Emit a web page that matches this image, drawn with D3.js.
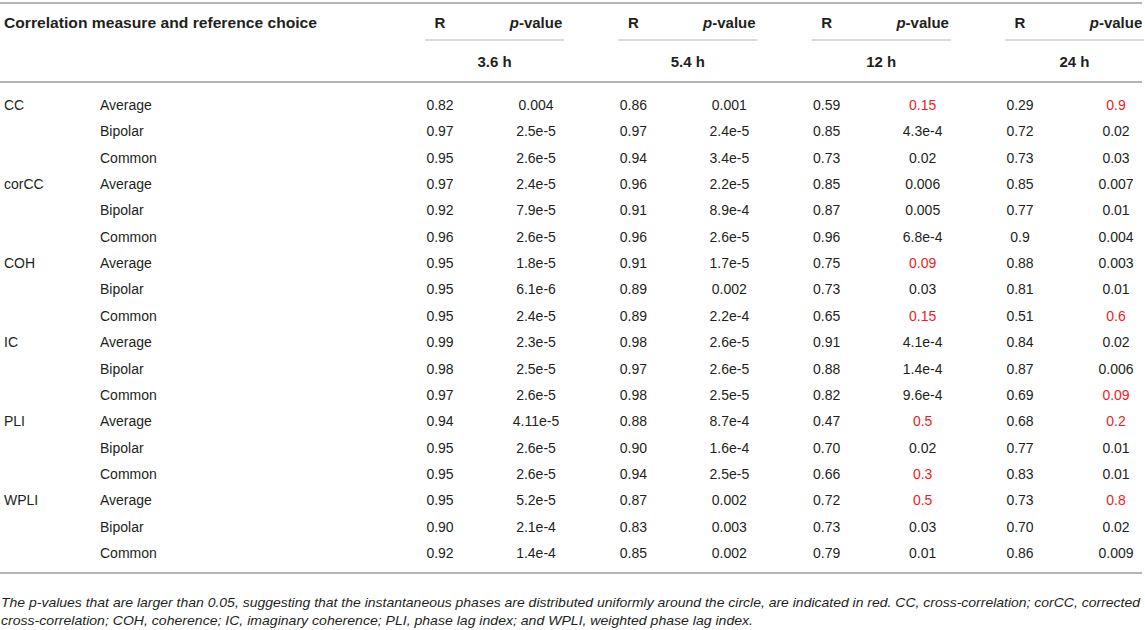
<!DOCTYPE html>
<html>
<head>
<meta charset="utf-8">
<script src="https://cdn.jsdelivr.net/npm/d3@7"></script>
<style>
  body { margin: 0; background: #fff; }
  text { font-family: "Liberation Sans", Arial, Helvetica, sans-serif; fill: #231f20; }
</style>
</head>
<body>
<div id="table"></div>
<script>
// Table values
const measures = ["CC", "corCC", "COH", "IC", "PLI", "WPLI"];
const refs = ["Average", "Bipolar", "Common"];
const intervals = ["3.6 h", "5.4 h", "12 h", "24 h"];

// one row per measure x reference, columns = intervals
const rValues = [
    ["0.82", "0.86", "0.59", "0.29"],
    ["0.97", "0.97", "0.85", "0.72"],
    ["0.95", "0.94", "0.73", "0.73"],
    ["0.97", "0.96", "0.85", "0.85"],
    ["0.92", "0.91", "0.87", "0.77"],
    ["0.96", "0.96", "0.96", "0.9"],
    ["0.95", "0.91", "0.75", "0.88"],
    ["0.95", "0.89", "0.73", "0.81"],
    ["0.95", "0.89", "0.65", "0.51"],
    ["0.99", "0.98", "0.91", "0.84"],
    ["0.98", "0.97", "0.88", "0.87"],
    ["0.97", "0.98", "0.82", "0.69"],
    ["0.94", "0.88", "0.47", "0.68"],
    ["0.95", "0.90", "0.70", "0.77"],
    ["0.95", "0.94", "0.66", "0.83"],
    ["0.95", "0.87", "0.72", "0.73"],
    ["0.90", "0.83", "0.73", "0.70"],
    ["0.92", "0.85", "0.79", "0.86"]
];

const pValues = [
    ["0.004", "0.001", "0.15", "0.9"],
    ["2.5e-5", "2.4e-5", "4.3e-4", "0.02"],
    ["2.6e-5", "3.4e-5", "0.02", "0.03"],
    ["2.4e-5", "2.2e-5", "0.006", "0.007"],
    ["7.9e-5", "8.9e-4", "0.005", "0.01"],
    ["2.6e-5", "2.6e-5", "6.8e-4", "0.004"],
    ["1.8e-5", "1.7e-5", "0.09", "0.003"],
    ["6.1e-6", "0.002", "0.03", "0.01"],
    ["2.4e-5", "2.2e-4", "0.15", "0.6"],
    ["2.3e-5", "2.6e-5", "4.1e-4", "0.02"],
    ["2.5e-5", "2.6e-5", "1.4e-4", "0.006"],
    ["2.6e-5", "2.5e-5", "9.6e-4", "0.09"],
    ["4.11e-5", "8.7e-4", "0.5", "0.2"],
    ["2.6e-5", "1.6e-4", "0.02", "0.01"],
    ["2.6e-5", "2.5e-5", "0.3", "0.01"],
    ["5.2e-5", "0.002", "0.5", "0.8"],
    ["2.1e-4", "0.003", "0.03", "0.02"],
    ["1.4e-4", "0.002", "0.01", "0.009"]
];

const footnote = [
    "The p-values that are larger than 0.05, suggesting that the instantaneous phases are distributed uniformly around the circle, are indicated in red. CC, cross-correlation; corCC, corrected",
    "cross-correlation; COH, coherence; IC, imaginary coherence; PLI, phase lag index; and WPLI, weighted phase lag index."
];

const width = 1145;
const height = 630;
const lineColor = "#b5b5b5";
const red = "#ed1c24";

const svg = d3.select("#table")
    .append("svg")
    .attr("width", width)
    .attr("height", height);

// rows
const rows = [];
measures.forEach(function(m, i) {
    refs.forEach(function(r, j) {
        rows.push({measure: j === 0 ? m : "", ref: r, idx: i * refs.length + j});
    });
});

const yScale = d3.scaleLinear()
    .domain([0, rows.length - 1])
    .range([105, 553]);

const xR = d3.scaleLinear()
    .domain([0, intervals.length - 1])
    .range([440, 1020]);
const pOffset = 96;

// horizontal rules
function hline(x1, x2, y, w) {
    svg.append("line")
        .attr("x1", x1).attr("x2", x2)
        .attr("y1", y).attr("y2", y)
        .attr("stroke", lineColor)
        .attr("stroke-width", w);
}
hline(0, 1142, 3, 2);
hline(0, 1142, 82, 2);
hline(0, 1142, 573, 2);

// header
svg.append("text")
    .attr("x", 4)
    .attr("y", 28)
    .style("font-size", "15px")
    .style("font-weight", "bold")
    .attr("textLength", 313)
    .attr("lengthAdjust", "spacingAndGlyphs")
    .text("Correlation measure and reference choice");

intervals.forEach(function(label, i) {
    const xr = xR(i);
    const xp = xr + pOffset;
    svg.append("text")
        .attr("x", xr)
        .attr("y", 28)
        .attr("text-anchor", "middle")
        .style("font-size", "15px")
        .style("font-weight", "bold")
        .text("R");

    const pv = svg.append("text")
        .attr("x", xp)
        .attr("y", 28)
        .attr("text-anchor", "middle")
        .style("font-size", "15px")
        .style("font-weight", "bold");
    pv.append("tspan").style("font-style", "italic").text("p");
    pv.append("tspan").text("-value");

    hline(xr - 15, xp + 28, 40, 1);

    svg.append("text")
        .attr("x", (xr - 15 + xp + 28) / 2)
        .attr("y", 67)
        .attr("text-anchor", "middle")
        .style("font-size", "15px")
        .style("font-weight", "bold")
        .text(label);
});

// body
const body = svg.selectAll("g.row")
    .data(rows)
    .enter()
    .append("g")
        .attr("class", "row")
        .attr("transform", function(d) { return `translate(0,${yScale(d.idx) + 5})`; });

body.append("text")
    .attr("x", 4)
    .style("font-size", "14px")
    .text(function(d) { return d.measure; });

body.append("text")
    .attr("x", 100)
    .style("font-size", "14px")
    .text(function(d) { return d.ref; });

intervals.forEach(function(label, i) {
    body.append("text")
        .attr("x", xR(i))
        .attr("text-anchor", "middle")
        .style("font-size", "14px")
        .text(function(d) { return rValues[d.idx][i]; });

    body.append("text")
        .attr("x", xR(i) + pOffset)
        .attr("text-anchor", "middle")
        .style("font-size", "14px")
        .style("fill", function(d) { return parseFloat(pValues[d.idx][i]) > 0.05 ? red : "#231f20"; })
        .text(function(d) { return pValues[d.idx][i]; });
});

// footnote
svg.selectAll("text.note")
    .data(footnote)
    .enter()
    .append("text")
        .attr("class", "note")
        .attr("x", 1)
        .attr("y", function(d, i) { return 607 + i * 18; })
        .attr("textLength", function(d, i) { return i === 0 ? 1139 : 752; })
        .attr("lengthAdjust", "spacingAndGlyphs")
        .style("font-size", "13px")
        .style("font-style", "italic")
        .text(function(d) { return d; });
</script>
</body>
</html>
